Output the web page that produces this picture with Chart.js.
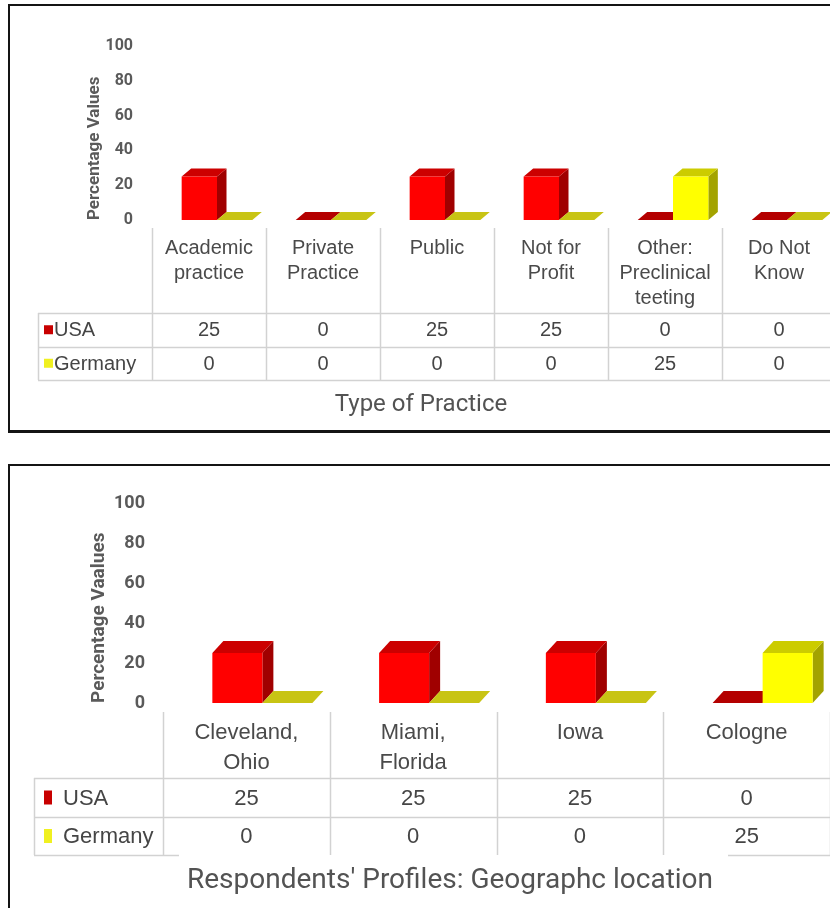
<!DOCTYPE html>
<html>
<head>
<meta charset="utf-8">
<script src="https://cdn.jsdelivr.net/npm/chart.js@4.4.1/dist/chart.umd.min.js"></script>
<style>
  html, body { margin: 0; padding: 0; background: #fff; }
  body { width: 830px; height: 908px; overflow: hidden; position: relative; }
  .holder { position: absolute; left: 0; }
  #h1 { top: 0; width: 842px; height: 440px; }
  #h2 { top: 440px; width: 900px; height: 468px; }
  .frame { position: absolute; border: solid #141414; border-width: 2px 2px 3px 2px; box-sizing: border-box; pointer-events: none; }
  #f1 { left: 8px; top: 4px; width: 850px; height: 429px; }
  #f2 { left: 8px; top: 464px; width: 850px; height: 470px; }
</style>
</head>
<body>
<div class="holder" id="h1"><canvas id="practiceChart"></canvas></div>
<div class="holder" id="h2"><canvas id="locationChart"></canvas></div>
<div class="frame" id="f1"></div>
<div class="frame" id="f2"></div>
<script>
// ---- data ----
const seriesNames = ['USA', 'Germany'];
const percentTicks = [0, 20, 40, 60, 80, 100];

const practiceLabels = [
  ['Academic', 'practice'],
  ['Private', 'Practice'],
  ['Public'],
  ['Not for', 'Profit'],
  ['Other:', 'Preclinical', 'teeting'],
  ['Do Not', 'Know']
];
const practiceUSA = [25, 0, 25, 25, 0, 0];
const practiceGermany = [0, 0, 0, 0, 25, 0];

const locationLabels = [
  ['Cleveland,', 'Ohio'],
  ['Miami,', 'Florida'],
  ['Iowa'],
  ['Cologne']
];
const locationUSA = [25, 25, 25, 0];
const locationGermany = [0, 0, 0, 25];

// ---- look ----
const FONT_AXIS = "Roboto, 'Liberation Sans', sans-serif";
const FONT_TABLE = "'Liberation Sans', Arial, sans-serif";
const seriesFaces = [
  { front: '#FF0000', top: '#CC0000', side: '#A00000', flat: '#B40000', key: '#C80000' },
  { front: '#FFFF00', top: '#CCCC00', side: '#A3A300', flat: '#C8C414', key: '#F0F020' }
];

// Draws each bar element as a 3-D box (front, top, right side), left to right.
const box3d = {
  id: 'box3d',
  afterDatasetsDraw(chart, args, opts) {
    const ctx = chart.ctx;
    const metas = chart.data.datasets.map((d, i) => chart.getDatasetMeta(i));
    const n = chart.data.labels.length;
    const dx = opts.dx, dy = opts.dy;
    ctx.save();
    for (let j = 0; j < n; j++) {
      metas.forEach((meta, di) => {
        const el = meta.data[j];
        if (!el) return;
        const p = el.getProps(['x', 'y', 'base', 'width'], true);
        const f = seriesFaces[di];
        const l = p.x - p.width / 2 + opts.shift;
        const r = l + p.width;
        const top = Math.min(p.y, p.base), bot = Math.max(p.y, p.base);
        const h = bot - top;
        const poly = (pts, col) => {
          ctx.beginPath();
          ctx.moveTo(pts[0][0], pts[0][1]);
          for (let k = 1; k < pts.length; k++) ctx.lineTo(pts[k][0], pts[k][1]);
          ctx.closePath();
          ctx.fillStyle = col;
          ctx.fill();
        };
        if (h > 0.5) {
          poly([[r, bot], [r + dx, bot - dy], [r + dx, top - dy], [r, top]], f.side);
        }
        poly([[l, top], [r, top], [r + dx, top - dy], [l + dx, top - dy]], h > 0.5 ? f.top : f.flat);
        if (h > 0.5) {
          ctx.fillStyle = f.front;
          ctx.fillRect(l, top, p.width, h);
        }
      });
    }
    ctx.restore();
  }
};

// Data table under the plot: category columns follow the x scale.
const dataTable = {
  id: 'dataTable',
  beforeDraw(chart, args, o) {
    const { ctx, chartArea } = chart;
    const xs = chart.scales.x;
    const n = chart.data.labels.length;
    const cw = (chartArea.right - chartArea.left) / n;
    const right = chart.width;
    const rows = o.rowLines;
    const last = rows[rows.length - 1];
    ctx.save();
    ctx.strokeStyle = o.lineColor;
    ctx.lineWidth = o.lineWidth;
    const line = (x1, y1, x2, y2) => { ctx.beginPath(); ctx.moveTo(x1, y1); ctx.lineTo(x2, y2); ctx.stroke(); };
    for (let i = 0; i <= n; i++) {
      const bx = Math.round(xs.getPixelForValue(0) - cw / 2 + i * cw) + 0.5;
      line(bx, o.headerTop, bx, last);
    }
    line(o.left + 0.5, rows[0], o.left + 0.5, last);
    rows.forEach((ry, k) => {
      const yy = Math.round(ry) + 0.5;
      if (k === rows.length - 1 && o.titleGap) {
        ctx.save();
        const t = chart.options.plugins.title;
        ctx.font = `${t.font.weight || 'normal'} ${t.font.size}px ${t.font.family}`;
        const w = ctx.measureText(t.text).width;
        const cx = (chart.titleBlock.left + chart.titleBlock.right) / 2;
        ctx.restore();
        line(o.left, yy, cx - w / 2 - 8, yy);
        line(cx + w / 2 + 15, yy, right, yy);
      } else {
        line(o.left, yy, right, yy);
      }
    });
    ctx.font = `${o.fontSize}px ${FONT_TABLE}`;
    ctx.fillStyle = o.textColor;
    ctx.textBaseline = 'middle';
    chart.data.datasets.forEach((ds, di) => {
      const cy = (rows[di] + rows[di + 1]) / 2;
      ctx.fillStyle = seriesFaces[di].key;
      ctx.fillRect(o.keyX, cy - o.keyH / 2, o.keyW, o.keyH);
      ctx.fillStyle = o.textColor;
      ctx.textAlign = 'left';
      ctx.fillText(ds.label, o.textX, cy + 1);
      ctx.textAlign = 'center';
      ds.data.forEach((v, i) => ctx.fillText(String(v), xs.getPixelForValue(i), cy + 1));
    });
    ctx.restore();
  }
};

function buildChart(canvas, p) {
  return new Chart(canvas, {
    type: 'bar',
    data: {
      labels: p.labels,
      datasets: p.values.map((vals, i) => ({
        label: seriesNames[i],
        data: vals,
        backgroundColor: 'rgba(0,0,0,0)',
        borderWidth: 0,
        categoryPercentage: p.catPct,
        barPercentage: 1
      }))
    },
    options: {
      responsive: true,
      maintainAspectRatio: false,
      animation: false,
      events: [],
      layout: { padding: { top: p.areaTop, left: 0, right: 0, bottom: 0 } },
      plugins: {
        legend: { display: false },
        tooltip: { enabled: false },
        title: {
          display: true, position: 'bottom', text: p.title, color: '#535353',
          font: { family: FONT_AXIS, size: p.titleSize, weight: 'normal', lineHeight: 1.2 },
          padding: { top: 0, bottom: p.titlePadBottom }
        },
        box3d: { shift: p.shift, dx: p.dx, dy: p.dy },
        dataTable: {
          left: p.tableLeft, headerTop: p.headerTop, rowLines: p.rowLines,
          keyX: 44, keyW: p.keyW, keyH: p.keyH, textX: p.textX,
          fontSize: p.tableSize, textColor: '#454545',
          lineColor: '#d2d2d2', lineWidth: 1.5, titleGap: p.titleGap
        }
      },
      scales: {
        x: {
          grid: { display: false, drawTicks: false },
          border: { display: false },
          ticks: {
            autoSkip: false, maxRotation: 0, minRotation: 0, padding: p.xPad,
            color: '#4a4a4a',
            font: { family: FONT_TABLE, size: p.tableSize, lineHeight: p.labelLine }
          },
          afterFit(s) { s.height = p.xHeight; }
        },
        y: {
          min: 0, max: 100,
          afterBuildTicks(s) { s.ticks = percentTicks.map(v => ({ value: v })); },
          grid: { display: false, drawTicks: false },
          border: { display: false },
          ticks: {
            padding: p.yPad, color: '#5a5a5a',
            font: { family: FONT_AXIS, size: p.tickSize, weight: 'bold' }
          },
          title: {
            display: true, text: p.yTitle, align: 'start', color: '#5a5a5a',
            font: { family: FONT_AXIS, size: p.yTitleSize, weight: 'bold', lineHeight: 1.2 },
            padding: { top: p.yTitlePad, bottom: 0 }
          },
          afterFit(s) { s.width = p.yWidth; }
        },
        spacer: {
          type: 'linear', position: 'right', display: true,
          grid: { display: false, drawTicks: false },
          border: { display: false },
          ticks: { display: false },
          afterFit(s) { s.width = p.spacer; }
        }
      }
    },
    plugins: [dataTable, box3d]
  });
}

buildChart(document.getElementById('practiceChart'), {
  labels: practiceLabels,
  values: [practiceUSA, practiceGermany],
  title: 'Type of Practice', titleSize: 24, titlePadBottom: 20.6,
  yTitle: 'Percentage Values', yTitleSize: 17, yTitlePad: 84.8,
  tickSize: 16, yPad: 19, yWidth: 152, spacer: 6,
  areaTop: 46, xHeight: 170.6, xPad: 15.5, labelLine: 1.25,
  tableSize: 20, catPct: 0.62, shift: 8, dx: 9.5, dy: 8,
  tableLeft: 38, headerTop: 228, rowLines: [313, 346.5, 380],
  keyW: 9, keyH: 9, textX: 54, titleGap: false
});

buildChart(document.getElementById('locationChart'), {
  labels: locationLabels,
  values: [locationUSA, locationGermany],
  title: "Respondents' Profiles: Geographc location", titleSize: 28, titlePadBottom: 10.6,
  yTitle: 'Percentage Vaalues', yTitleSize: 19, yTitlePad: 87.6,
  tickSize: 18, yPad: 18, yWidth: 163, spacer: 70,
  areaTop: 63, xHeight: 160.8, xPad: 15, labelLine: 1.36,
  tableSize: 22, catPct: 0.6, shift: 16, dx: 11, dy: 12,
  tableLeft: 34, headerTop: 272, rowLines: [338, 377, 415],
  keyW: 8, keyH: 14, textX: 63, titleGap: true
});
</script>
</body>
</html>
